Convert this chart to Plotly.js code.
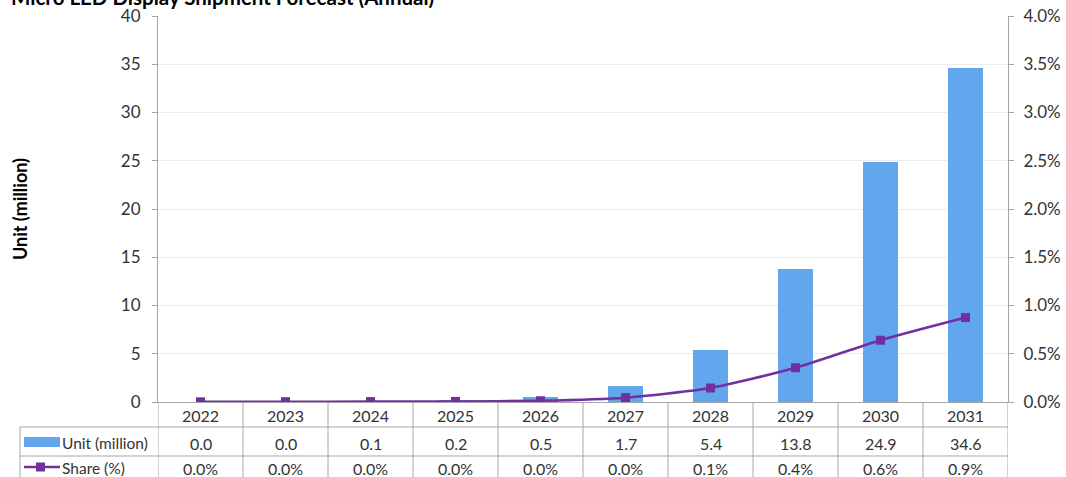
<!DOCTYPE html>
<html>
<head>
<meta charset="utf-8">
<script src="https://cdn.plot.ly/plotly-3.0.1.min.js"></script>
<style>
  html, body { margin: 0; padding: 0; background: #fff; }
  #chart { width: 1066px; height: 477px; }
</style>
</head>
<body>
<div id="chart"></div>
<script>
// Annual shipment forecast for Micro LED displays
const years = ['2022', '2023', '2024', '2025', '2026', '2027', '2028', '2029', '2030', '2031'];
const units = [0.03, 0.04, 0.1, 0.2, 0.5, 1.7, 5.4, 13.8, 24.9, 34.6];        // million units
const share = [0.002, 0.003, 0.004, 0.006, 0.013, 0.045, 0.145, 0.355, 0.64, 0.875]; // percent
const unitTicks = [0, 5, 10, 15, 20, 25, 30, 35, 40];
const shareTicks = [0, 0.5, 1, 1.5, 2, 2.5, 3, 3.5, 4];

const barColor = '#62a6ee';
const lineColor = '#7030a0';
const gridColor = '#ececec';
const tableLine = '#a6a6a6';
const textColor = '#333333';
const fontFamily = 'Lato, "Open Sans", sans-serif';

const idx = years.map((_, i) => i);

const traces = [
  {
    type: 'bar',
    name: 'Unit (million)',
    x: idx,
    y: units,
    marker: { color: barColor },
    width: 0.42,
    hoverinfo: 'skip'
  },
  {
    type: 'scatter',
    mode: 'lines+markers',
    name: 'Share (%)',
    x: idx,
    y: share,
    yaxis: 'y2',
    line: { color: lineColor, width: 2.5, shape: 'spline', smoothing: 0.6 },
    marker: { color: lineColor, symbol: 'square', size: 9 },
    hoverinfo: 'skip'
  }
];

// data table under the plot: year row, unit row, share row
const annotations = [];
const rowYear = -13, rowUnit = -41, rowShare = -66;
years.forEach((yr, i) => {
  annotations.push({ x: i, xref: 'x', y: 0, yref: 'paper', yshift: rowYear, text: yr,
    showarrow: false, xanchor: 'center', yanchor: 'middle' });
  annotations.push({ x: i, xref: 'x', y: 0, yref: 'paper', yshift: rowUnit, text: units[i].toFixed(1),
    showarrow: false, xanchor: 'center', yanchor: 'middle' });
  annotations.push({ x: i, xref: 'x', y: 0, yref: 'paper', yshift: rowShare, text: share[i].toFixed(1) + '%',
    showarrow: false, xanchor: 'center', yanchor: 'middle' });
});
// row headers
annotations.push({ x: 0, xref: 'paper', xshift: -98, y: 0, yref: 'paper', yshift: rowUnit,
  text: 'Unit (million)', showarrow: false, xanchor: 'left', yanchor: 'middle', font: { size: 15.5 } });
annotations.push({ x: 0, xref: 'paper', xshift: -98, y: 0, yref: 'paper', yshift: rowShare,
  text: 'Share (%)', showarrow: false, xanchor: 'left', yanchor: 'middle', font: { size: 15.5 } });
// left axis title
annotations.push({ x: 0, xref: 'paper', xshift: -138, y: 0.5, yref: 'paper',
  text: '<b>Unit (million)</b>', textangle: -90, showarrow: false,
  xanchor: 'center', yanchor: 'middle', font: { size: 18, color: '#000' } });
// chart title, sitting on the top edge of the page
annotations.push({ x: 0, xref: 'paper', xshift: -149, y: 1, yref: 'paper', yshift: 5,
  text: '<b>Micro LED Display Shipment Forecast (Annual)</b>', showarrow: false,
  xanchor: 'left', yanchor: 'bottom', font: { size: 20.5, color: '#000' } });

const shapes = [];
// vertical table dividers at category bounds
for (let i = 0; i <= years.length; i++) {
  shapes.push({ type: 'line', xref: 'x', x0: i - 0.5, x1: i - 0.5,
    yref: 'paper', ysizemode: 'pixel', yanchor: 0, y0: 0, y1: -80,
    line: { color: tableLine, width: 1 } });
}
// horizontal table rules spanning the header column and the plot width
[-25, -54].forEach(dy => {
  shapes.push({ type: 'line', xref: 'paper', xsizemode: 'pixel', xanchor: 1, x0: -988, x1: 0,
    yref: 'paper', ysizemode: 'pixel', yanchor: 0, y0: dy, y1: dy,
    line: { color: tableLine, width: 1 } });
});
// header column left border
shapes.push({ type: 'line', xref: 'paper', xsizemode: 'pixel', xanchor: 0, x0: -138, x1: -138,
  yref: 'paper', ysizemode: 'pixel', yanchor: 0, y0: -25, y1: -80,
  line: { color: tableLine, width: 1 } });
// legend keys inside the header column
shapes.push({ type: 'rect', xref: 'paper', xsizemode: 'pixel', xanchor: 0, x0: -134, x1: -98,
  yref: 'paper', ysizemode: 'pixel', yanchor: 0, y0: -35, y1: -45,
  fillcolor: barColor, line: { width: 0 } });
shapes.push({ type: 'line', xref: 'paper', xsizemode: 'pixel', xanchor: 0, x0: -134, x1: -98,
  yref: 'paper', ysizemode: 'pixel', yanchor: 0, y0: -65, y1: -65,
  line: { color: lineColor, width: 2.5 } });
shapes.push({ type: 'rect', xref: 'paper', xsizemode: 'pixel', xanchor: 0, x0: -122, x1: -113,
  yref: 'paper', ysizemode: 'pixel', yanchor: 0, y0: -60.5, y1: -69.5,
  fillcolor: lineColor, line: { width: 0 } });

const layout = {
  width: 1066,
  height: 477,
  margin: { l: 158, r: 58, t: 16, b: 75, pad: 0 },
  paper_bgcolor: '#ffffff',
  plot_bgcolor: '#ffffff',
  showlegend: false,
  font: { family: fontFamily, size: 16, color: textColor },
  xaxis: {
    range: [-0.5, 9.5],
    tickvals: idx,
    showticklabels: false,
    ticks: '',
    showgrid: false,
    zeroline: false,
    showline: true,
    linecolor: '#a6a6a6',
    linewidth: 1,
    fixedrange: true
  },
  yaxis: {
    range: [0, 40],
    tickvals: unitTicks,
    ticks: 'outside',
    ticklen: 5,
    tickcolor: '#a6a6a6',
    showline: true,
    linecolor: '#a6a6a6',
    linewidth: 1,
    showgrid: true,
    gridcolor: gridColor,
    zeroline: false,
    tickfont: { size: 17, color: textColor },
    ticklabelstandoff: 8,
    fixedrange: true
  },
  yaxis2: {
    overlaying: 'y',
    side: 'right',
    range: [0, 4],
    tickvals: shareTicks,
    ticktext: shareTicks.map(v => v.toFixed(1) + '%'),
    ticks: 'outside',
    ticklen: 5,
    tickcolor: '#a6a6a6',
    showline: true,
    linecolor: '#a6a6a6',
    linewidth: 1,
    showgrid: false,
    zeroline: false,
    tickfont: { size: 17, color: textColor },
    ticklabelstandoff: 6,
    fixedrange: true
  },
  bargap: 0,
  annotations: annotations,
  shapes: shapes
};

Plotly.newPlot('chart', traces, layout, { staticPlot: true, displayModeBar: false });
</script>
</body>
</html>
